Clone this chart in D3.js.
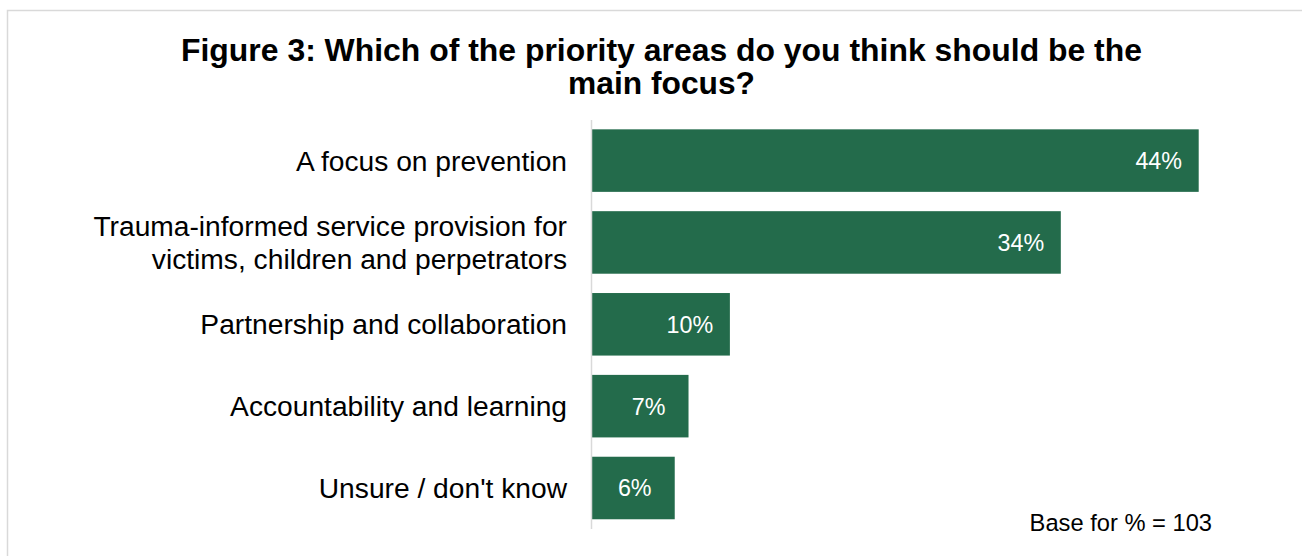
<!DOCTYPE html>
<html>
<head>
<meta charset="utf-8">
<script src="https://cdn.jsdelivr.net/npm/d3@7/dist/d3.min.js"></script>
<style>
  html, body { margin: 0; padding: 0; background: #fff; }
  svg { display: block; font-family: "Liberation Sans", Arial, Helvetica, sans-serif; }
</style>
</head>
<body>
<svg id="chart" width="1302" height="556"></svg>
<script>
// Survey responses: share of respondents choosing each priority area
const categories = [
  ["A focus on prevention"],
  ["Trauma-informed service provision for", "victims, children and perpetrators"],
  ["Partnership and collaboration"],
  ["Accountability and learning"],
  ["Unsure / don't know"]
];
const values = [44, 34, 10, 7, 6];
const titleLines = [
  "Figure 3: Which of the priority areas do you think should be the",
  "main focus?"
];
const baseNote = "Base for % = 103";

const svg = d3.select("#chart");

// Outer chart frame
svg.append("rect")
  .attr("x", 7.5).attr("y", 10.5)
  .attr("width", 1300).attr("height", 600)
  .attr("fill", "#fff")
  .attr("stroke", "#d9d9d9")
  .attr("stroke-width", 1.5);

// Title, two centred lines
const titleWidths = [961, 187];
titleLines.forEach((t, i) => {
  svg.append("text")
    .attr("text-anchor", "middle")
    .attr("font-weight", "bold")
    .attr("font-size", 30.5)
    .attr("fill", "#000")
    .attr("x", 661.5)
    .attr("y", 61 + i * 32.7)
    .attr("textLength", titleWidths[i])
    .attr("lengthAdjust", "spacingAndGlyphs")
    .text(t);
});

// Scales
const idx = d3.range(values.length);
const y = d3.scaleBand()
  .domain(idx)
  .range([120, 528.6])
  .paddingInner(0.236)
  .paddingOuter(0.114);

const x = d3.scaleLinear()
  .domain([0, 44])
  .range([592, 1198.7]);

// Bars
svg.append("g").selectAll("rect")
  .data(idx)
  .join("rect")
  .attr("x", x(0))
  .attr("y", i => y(i))
  .attr("width", i => x(values[i]) - x(0))
  .attr("height", y.bandwidth())
  .attr("fill", "#236B4B");

// Vertical category axis line
svg.append("line")
  .attr("x1", 591.5).attr("x2", 591.5)
  .attr("y1", 120).attr("y2", 529)
  .attr("stroke", "#d9d9d9")
  .attr("stroke-width", 1.5);

// Category labels (right-aligned, multi-line where needed)
const catFont = 28.2;
const lineH = 33;
svg.append("g").selectAll("text")
  .data(idx)
  .join("text")
  .attr("text-anchor", "end")
  .attr("font-size", catFont)
  .attr("fill", "#000")
  .each(function(i) {
    const lines = categories[i];
    const cy = y(i) + y.bandwidth() / 2;
    const start = cy - (lines.length - 1) * lineH / 2 + 0.36 * catFont;
    lines.forEach((l, k) => {
      d3.select(this).append("tspan")
        .attr("x", 567)
        .attr("y", start + k * lineH)
        .text(l);
    });
  });

// Value labels inside bar ends
svg.append("g").selectAll("text")
  .data(idx)
  .join("text")
  .attr("text-anchor", "middle")
  .attr("font-size", 23.3)
  .attr("fill", "#fff")
  .attr("x", i => x(values[i]) - 40)
  .attr("y", i => y(i) + y.bandwidth() / 2 + 0.36 * 23.3)
  .text(i => values[i] + "%");

// Base note
svg.append("text")
  .attr("text-anchor", "end")
  .attr("x", 1212)
  .attr("y", 530.5)
  .attr("font-size", 23.7)
  .attr("fill", "#000")
  .text(baseNote);
</script>
</body>
</html>
